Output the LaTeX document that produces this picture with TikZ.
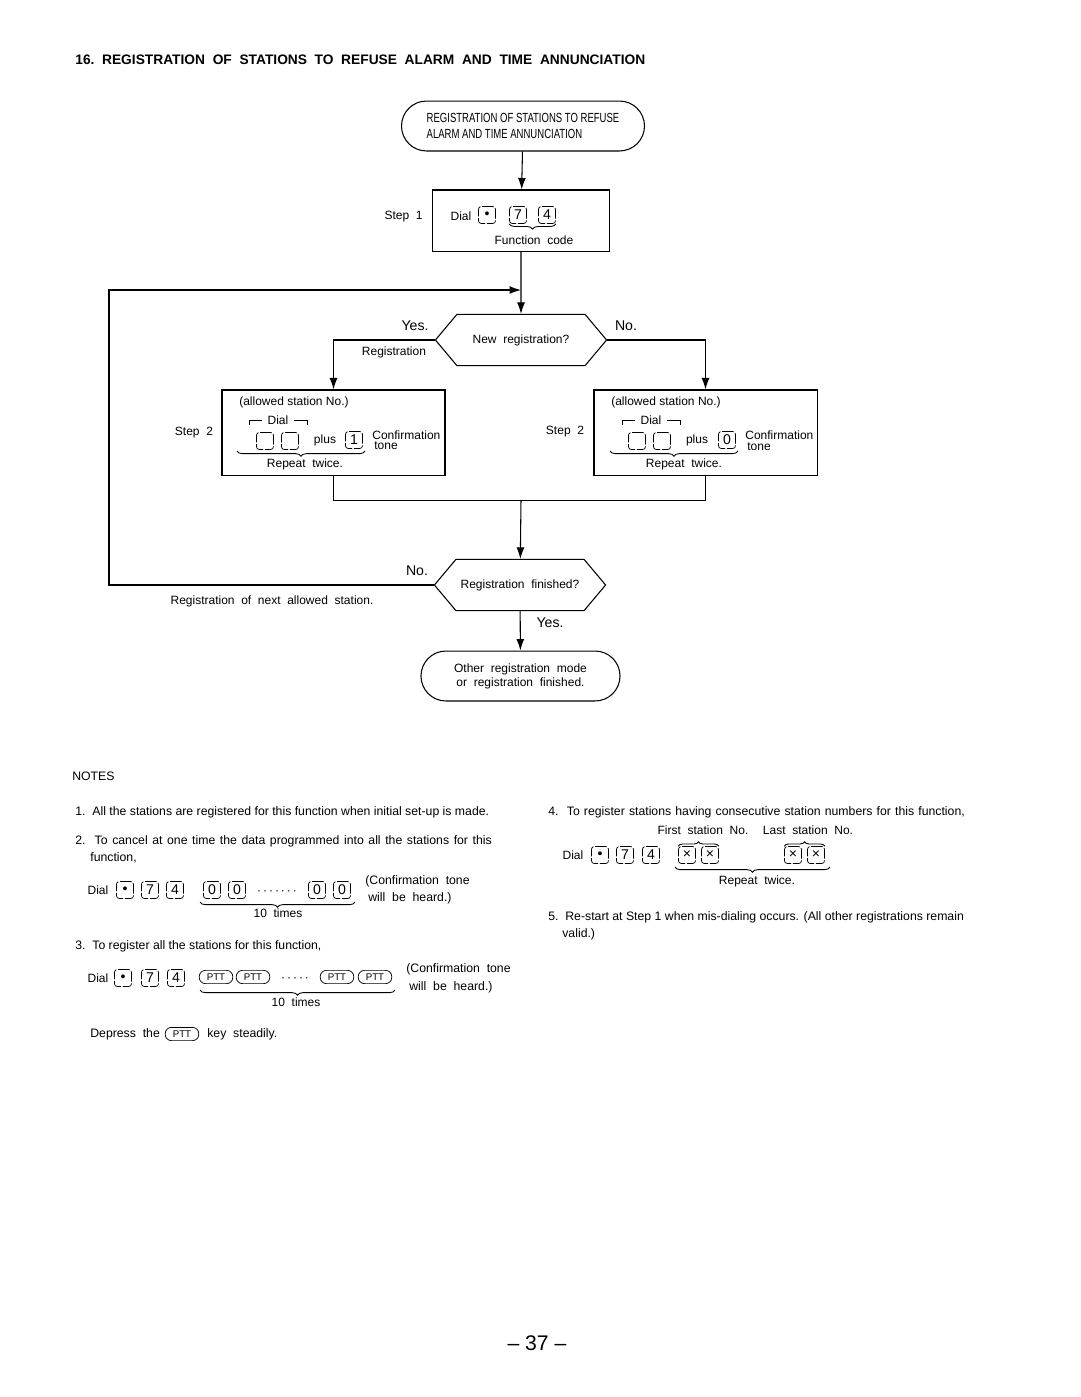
\documentclass[tikz,border=0pt]{standalone}
\usepackage{fontspec}
\setmainfont{Liberation Sans}
\newfontfamily\narrowfont[FakeStretch=0.72]{Liberation Sans}
\usetikzlibrary{arrows.meta,positioning,shapes.misc,shapes.symbols,decorations.pathreplacing}

\begin{document}
\begin{tikzpicture}[x=0.5667pt,y=-0.5667pt,>={Latex[length=6.5pt,width=4.5pt]},
    every node/.style={inner sep=0pt,font=\fontsize{6.8}{8}\selectfont}]
  \tikzstyle{box}=[draw,semithick,minimum width=100pt,minimum height=34.6pt]
  \tikzstyle{stepbox}=[draw,semithick,minimum width=126.4pt,minimum height=48.2pt]
  \tikzstyle{term}=[draw,semithick,rounded rectangle,minimum height=28.3pt,align=center]
  \tikzstyle{ask}=[draw,semithick,signal,signal to=west and east,signal pointer angle=100,minimum width=97pt,minimum height=29pt]
  \tikzstyle{dkey}=[draw,line width=0.4pt,rounded corners=1.5pt,dash pattern=on 6pt off 1pt,minimum width=9.6pt,minimum height=9.6pt,font=\fontsize{8}{8}\selectfont]
  \tikzstyle{ptt}=[draw,line width=0.4pt,rounded corners=3.5pt,minimum width=19pt,minimum height=7.5pt,font=\fontsize{5.5}{6}\selectfont]
  \tikzstyle{ubrace}=[decorate,decoration={brace,mirror,amplitude=3pt},line width=0.5pt]
  \tikzstyle{obrace}=[decorate,decoration={brace,amplitude=2.5pt},line width=0.5pt]
  \tikzstyle{flow}=[semithick]
  \tikzstyle{bigtxt}=[font=\fontsize{8}{9}\selectfont]
  \tikzstyle{note}=[anchor=west,font=\fontsize{6.95}{8}\selectfont]

  \useasboundingbox (0,0) rectangle (1080,1397);

  \node[anchor=west,font=\bfseries\fontsize{7.8}{9}\selectfont] (title) at (75,60)
    {16.~~REGISTRATION~~OF~~STATIONS~~TO~~REFUSE~~ALARM~~AND~~TIME~~ANNUNCIATION};

  % flow chart
  \node[term,minimum width=137.7pt,font=\narrowfont\fontsize{7.5}{9.5}\selectfont,align=left] (start) at (523,126)
    {REGISTRATION OF STATIONS TO REFUSE\\ALARM AND TIME ANNUNCIATION};

  \node[box] (s1) at (521,220.5) {};
  \node[anchor=east] (s1lab) at (423,217) {Step~~1};
  \node (s1dial) at (461,216) {Dial};
  \node[dkey] (s1k1) at (487,215) {•};
  \node[dkey] (s1k2) at (518,215) {7};
  \node[dkey] (s1k3) at (547,215) {4};
  \draw[ubrace] (s1k2.south west) -- (s1k3.south east);
  \node (s1fc) at (534,240) {Function~~code};

  \coordinate (j1) at (521,290);
  \node[ask] (q1) at (521,340) {New~~registration?};
  \node[bigtxt] (yes1) at (415,326) {Yes.};
  \node[bigtxt] (no1) at (626,326) {No.};
  \node (reg1) at (394,352) {Registration};

  % step 2, registration
  \node[stepbox] (s2l) at (333.5,432.5) {};
  \node (s2llab) at (194,433) {Step~~2};
  \node (s2la) at (294,402) {(allowed station No.)};
  \node (s2ld) at (278,420) {Dial};
  \draw[thin] ([xshift=-3pt]s2ld.west) -- ++(-13,0) -- ++(0,5);
  \draw[thin] ([xshift=3pt]s2ld.east) -- ++(13,0) -- ++(0,5);
  \node[dkey] (s2lk1) at (265,441) {};
  \node[dkey] (s2lk2) at (290,441) {};
  \node (s2lp) at (325,440) {plus};
  \node[dkey] (s2lk3) at (354,440) {1};
  \node[anchor=west] (s2lc) at (372,435) {Confirmation};
  \node[anchor=west] (s2lt) at (374,446) {tone};
  \draw[ubrace] (237,451) -- (365,451);
  \node (s2lr) at (305,464) {Repeat~~twice.};

  % step 2, no registration
  \node[stepbox] (s2r) at (705.5,432.5) {};
  \node (s2rlab) at (565,432) {Step~~2};
  \node (s2ra) at (666,402) {(allowed station No.)};
  \node (s2rd) at (651,420) {Dial};
  \draw[thin] ([xshift=-3pt]s2rd.west) -- ++(-13,0) -- ++(0,5);
  \draw[thin] ([xshift=3pt]s2rd.east) -- ++(13,0) -- ++(0,5);
  \node[dkey] (s2rk1) at (637,441) {};
  \node[dkey] (s2rk2) at (662,441) {};
  \node (s2rp) at (697,440) {plus};
  \node[dkey] (s2rk3) at (727,440) {0};
  \node[anchor=west] (s2rc) at (745,435) {Confirmation};
  \node[anchor=west] (s2rt) at (747,447) {tone};
  \draw[ubrace] (610,451) -- (738,451);
  \node (s2rr) at (684,464) {Repeat~~twice.};

  \coordinate (m1) at (521,500);
  \node[ask] (q2) at (520,585) {Registration~~finished?};
  \coordinate (lp) at (109,585);
  \node[bigtxt] (no2) at (417,571) {No.};
  \node[bigtxt] (yes2) at (550,623) {Yes.};
  \node (next) at (272,601) {Registration~~of~~next~~allowed~~station.};
  \node[term,minimum width=112.8pt] (fin) at (520.5,676) {Other~~registration~~mode\\or~~registration~~finished.};

  \draw[flow,->] (start) -- (s1);
  \draw[flow,->] (s1) -- (q1);
  \draw[flow,->] (q1.west) -| (s2l.north);
  \draw[flow,->] (q1.east) -| (s2r.north);
  \draw[flow] (s2l.south) -- ++(0,25) -| (s2r.south);
  \draw[flow,->] (m1) -- (q2);
  \draw[flow,->] (q2.west) -- (lp) |- (j1);
  \draw[flow,->] (q2) -- (fin);

  % notes
  \node[note] (notes) at (72,776) {NOTES};
  \node[note] (n1) at (75,812) {1.~~All the stations are registered for this function when initial set-up is made.};
  \node[note] (n2) at (75,841) {\makebox[236pt][s]{2.~~To cancel at one time the data programmed into all the stations for this}};
  \node[note] (n2b) at (90,858) {function,};
  \node (n2dial) at (98,890) {Dial};
  \node[dkey] (n2k1) at (125,890) {•};
  \node[dkey] (n2k2) at (150,890) {7};
  \node[dkey] (n2k3) at (175,890) {4};
  \node[dkey] (n2k4) at (212,890) {0};
  \node[dkey] (n2k5) at (237,890) {0};
  \node (n2dots) at (277,893) {·\,·\,·\,·\,·\,·\,·};
  \node[dkey] (n2k6) at (317,890) {0};
  \node[dkey] (n2k7) at (342,890) {0};
  \draw[ubrace] (200,902) -- (355,902);
  \node (n2ten) at (278,913) {10~~times};
  \node[note] (n2c) at (365,881) {(Confirmation~~tone};
  \node[note] (n2w) at (368,898) {will~~be~~heard.)};

  \node[note] (n3) at (75,946) {3.~~To register all the stations for this function,};
  \node (n3dial) at (98,978) {Dial};
  \node[dkey] (n3k1) at (123,978) {•};
  \node[dkey] (n3k2) at (150,978) {7};
  \node[dkey] (n3k3) at (176,978) {4};
  \node[ptt] (n3p1) at (216,977) {PTT};
  \node[ptt] (n3p2) at (253,977) {PTT};
  \node (n3dots) at (295,980) {·\,·\,·\,·\,·};
  \node[ptt] (n3p3) at (337,977) {PTT};
  \node[ptt] (n3p4) at (375,977) {PTT};
  \draw[ubrace] (200,990) -- (395,990);
  \node (n3ten) at (296,1002) {10~~times};
  \node[note] (n3c) at (406,969) {(Confirmation~~tone};
  \node[note] (n3w) at (409,987) {will~~be~~heard.)};
  \node[note] (n3d) at (90,1034) {Depress~~the};
  \node[ptt] (n3p5) at (182,1034) {PTT};
  \node[note] (n3s) at (207,1034) {key~~steadily.};

  \node[note] (n4) at (548,812) {\makebox[236pt][s]{4.~~To register stations having consecutive station numbers for this function,}};
  \node (n4first) at (703,830) {First~~station~~No.};
  \node (n4last) at (808,830) {Last~~station~~No.};
  \node (n4dial) at (573,855) {Dial};
  \node[dkey] (n4k1) at (600,855) {•};
  \node[dkey] (n4k2) at (625,855) {7};
  \node[dkey] (n4k3) at (651,855) {4};
  \node[dkey] (n4x1) at (687,855) {×};
  \node[dkey] (n4x2) at (710,855) {×};
  \node[dkey] (n4x3) at (793,855) {×};
  \node[dkey] (n4x4) at (816,855) {×};
  \draw[obrace] (n4x1.north west) -- (n4x2.north east);
  \draw[obrace] (n4x3.north west) -- (n4x4.north east);
  \draw[ubrace] (675,867) -- (830,867);
  \node (n4r) at (757,881) {Repeat~~twice.};

  \node[note] (n5) at (548,917) {5.~~Re-start at Step 1 when mis-dialing occurs. (All other registrations remain};
  \node[note] (n5b) at (562,934) {valid.)};

  \node[font=\fontsize{12}{14}\selectfont] (page) at (537,1343) {-- 37 --};
\end{tikzpicture}
\end{document}
